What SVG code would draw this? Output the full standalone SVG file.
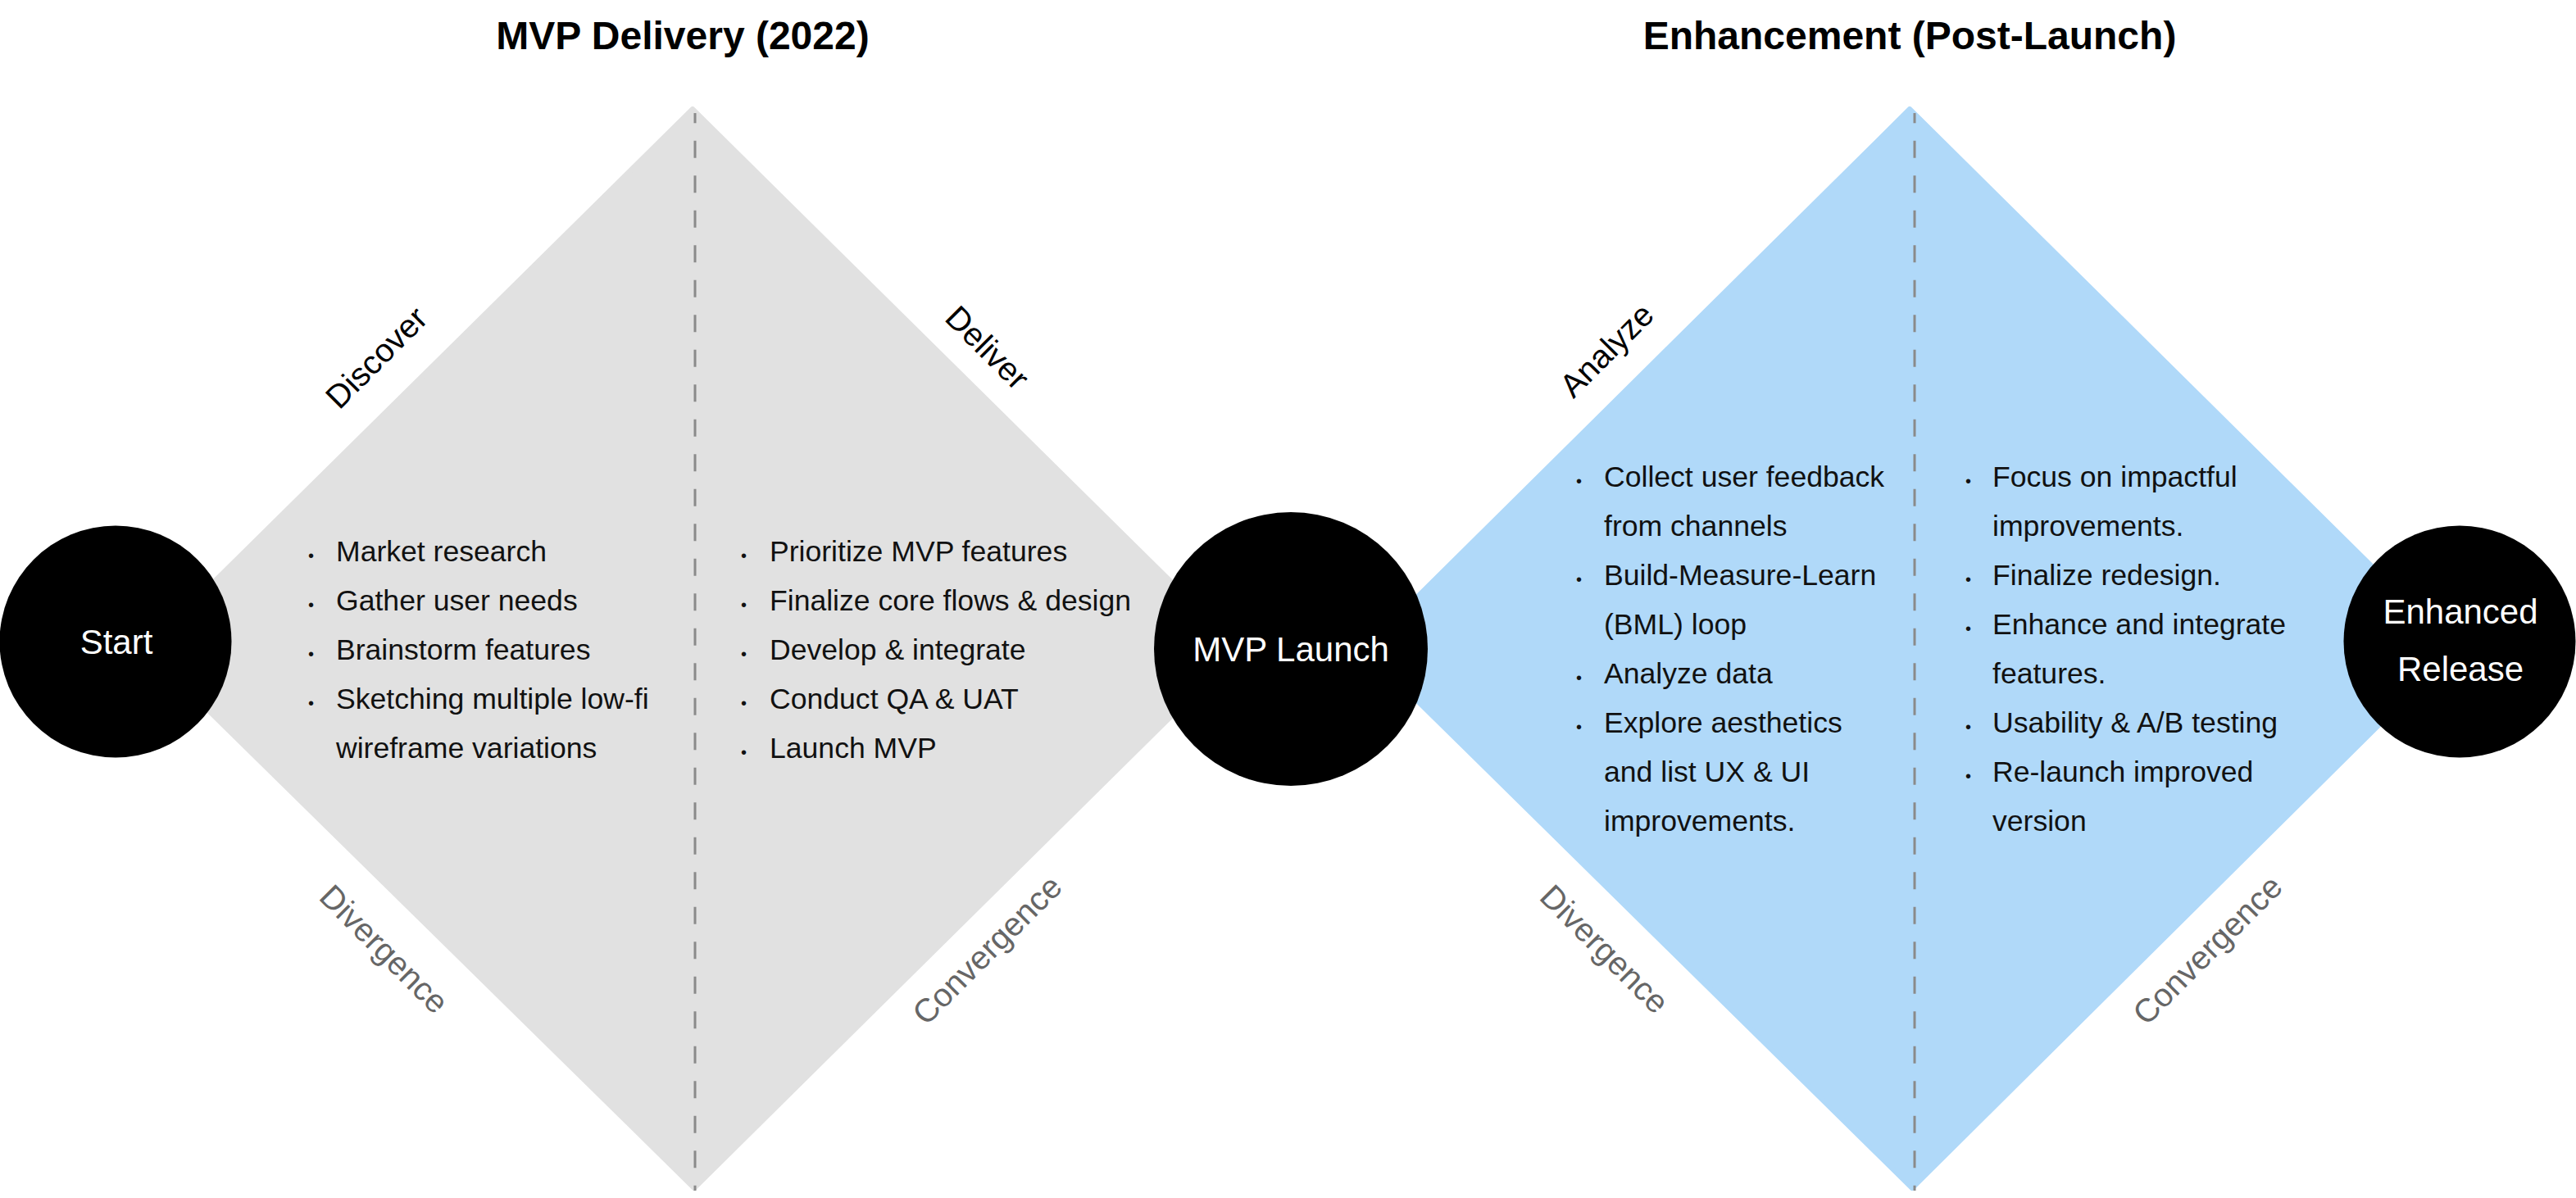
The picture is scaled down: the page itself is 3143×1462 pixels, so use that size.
<svg xmlns="http://www.w3.org/2000/svg" width="3143" height="1462" viewBox="0 0 3143 1462">
<style>
text{font-family:"Liberation Sans",Arial,sans-serif}
.title{font-size:48px;font-weight:bold;fill:#000;text-anchor:middle}
.item{font-size:35.6px;fill:#111}
.dot{font-size:20px;fill:#111}
.node{font-size:42px;fill:#fff;text-anchor:middle}
.phase{font-size:40px;fill:#000;text-anchor:middle}
.mode{font-size:40px;fill:#666;text-anchor:middle}
.axis{stroke:#8a8a8a;stroke-width:3;stroke-dasharray:21 21.5;stroke-dashoffset:8.8;fill:none}
.dia1{fill:#e1e1e1;stroke:#e1e1e1;stroke-width:6;stroke-linejoin:round}
.dia2{fill:#b0d9f9;stroke:#b0d9f9;stroke-width:6;stroke-linejoin:round}
</style>
<rect width="3143" height="1462" fill="#fff"/>

<g id="phase-mvp">
<polygon class="dia1" points="845,133 1512,792 847,1450 178,792"/>
<line class="axis" x1="848" y1="138" x2="848" y2="1453"/>
<text class="title" x="833" y="60">MVP Delivery (2022)</text>
<text class="phase" transform="translate(469,446) rotate(-45)">Discover</text>
<text class="phase" transform="translate(1195,434) rotate(45)">Deliver</text>
<text class="mode" transform="translate(459,1168) rotate(45)">Divergence</text>
<text class="mode" transform="translate(1214,1169) rotate(-45)">Convergence</text>
</g>

<g id="phase-enhancement">
<polygon class="dia2" points="2330,133 2996,792 2333,1450 1665,792"/>
<line class="axis" x1="2336" y1="138" x2="2336" y2="1453"/>
<text class="title" x="2330" y="60">Enhancement (Post-Launch)</text>
<text class="phase" transform="translate(1970,437) rotate(-45)">Analyze</text>
<text class="mode" transform="translate(1948,1168) rotate(45)">Divergence</text>
<text class="mode" transform="translate(2703,1169) rotate(-45)">Convergence</text>
</g>

<g id="list-discover">
<text class="dot" x="376" y="685">•</text><text class="item" x="410" y="685">Market research</text>
<text class="dot" x="376" y="745">•</text><text class="item" x="410" y="745">Gather user needs</text>
<text class="dot" x="376" y="805">•</text><text class="item" x="410" y="805">Brainstorm features</text>
<text class="dot" x="376" y="865">•</text><text class="item" x="410" y="865">Sketching multiple low-fi</text>
<text class="item" x="410" y="925">wireframe variations</text>
</g>

<g id="list-deliver">
<text class="dot" x="904" y="685">•</text><text class="item" x="939" y="685">Prioritize MVP features</text>
<text class="dot" x="904" y="745">•</text><text class="item" x="939" y="745">Finalize core flows &amp; design</text>
<text class="dot" x="904" y="805">•</text><text class="item" x="939" y="805">Develop &amp; integrate</text>
<text class="dot" x="904" y="865">•</text><text class="item" x="939" y="865">Conduct QA &amp; UAT</text>
<text class="dot" x="904" y="925">•</text><text class="item" x="939" y="925">Launch MVP</text>
</g>

<g id="list-analyze">
<text class="dot" x="1923" y="594">•</text><text class="item" x="1957" y="594">Collect user feedback</text>
<text class="item" x="1957" y="654">from channels</text>
<text class="dot" x="1923" y="714">•</text><text class="item" x="1957" y="714">Build-Measure-Learn</text>
<text class="item" x="1957" y="774">(BML) loop</text>
<text class="dot" x="1923" y="834">•</text><text class="item" x="1957" y="834">Analyze data</text>
<text class="dot" x="1923" y="894">•</text><text class="item" x="1957" y="894">Explore aesthetics</text>
<text class="item" x="1957" y="954">and list UX &amp; UI</text>
<text class="item" x="1957" y="1014">improvements.</text>
</g>

<g id="list-improve">
<text class="dot" x="2398" y="594">•</text><text class="item" x="2431" y="594">Focus on impactful</text>
<text class="item" x="2431" y="654">improvements.</text>
<text class="dot" x="2398" y="714">•</text><text class="item" x="2431" y="714">Finalize redesign.</text>
<text class="dot" x="2398" y="774">•</text><text class="item" x="2431" y="774">Enhance and integrate</text>
<text class="item" x="2431" y="834">features.</text>
<text class="dot" x="2398" y="894">•</text><text class="item" x="2431" y="894">Usability &amp; A/B testing</text>
<text class="dot" x="2398" y="954">•</text><text class="item" x="2431" y="954">Re-launch improved</text>
<text class="item" x="2431" y="1014">version</text>
</g>

<g id="connectors"></g>

<g id="node-start">
<circle cx="141" cy="783" r="141.5" fill="#000"/>
<text class="node" x="142" y="798">Start</text>
</g>
<g id="node-mvp-launch">
<circle cx="1575" cy="792" r="167" fill="#000"/>
<text class="node" x="1575" y="807">MVP Launch</text>
</g>
<g id="node-enhanced-release">
<circle cx="3001" cy="783" r="141.5" fill="#000"/>
<text class="node" x="3002" y="761">Enhanced</text>
<text class="node" x="3002" y="831">Release</text>
</g>
</svg>
